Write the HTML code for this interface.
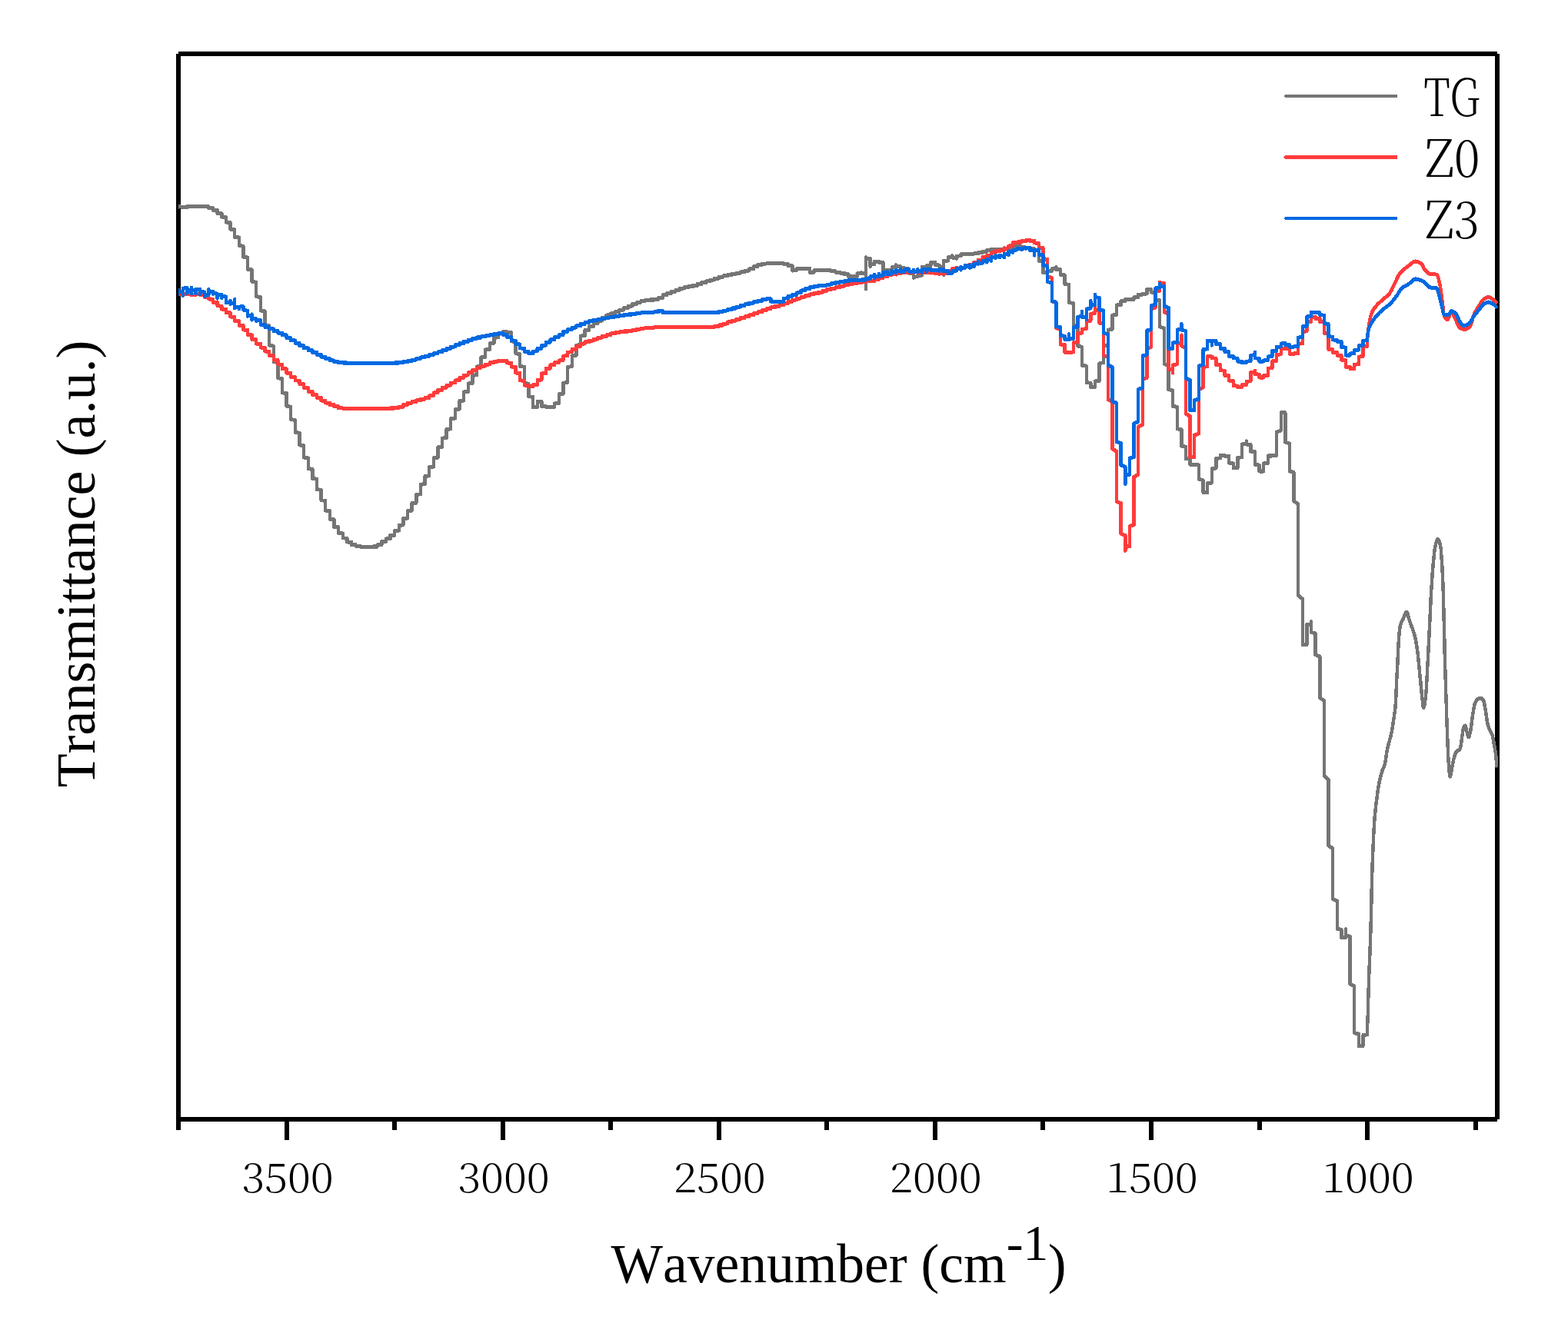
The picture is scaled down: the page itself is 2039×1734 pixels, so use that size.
<!DOCTYPE html>
<html lang="en"><head><meta charset="utf-8"><title>FTIR spectra</title>
<style>html,body{margin:0;padding:0;background:#fff}body{width:2039px;height:1734px;overflow:hidden}svg{display:block}.ax{font-family:"Liberation Serif","Times New Roman",serif;font-kerning:none;fill:#000}.tk{font-family:"Noto Serif CJK SC","Liberation Serif",serif;font-weight:300;font-kerning:none;fill:#000}</style></head><body>
<svg width="2039" height="1734" viewBox="0 0 2039 1734" role="img" aria-label="FTIR transmittance spectra of TG, Z0 and Z3">
<rect width="2039" height="1734" fill="#fff"/>
<g fill="#000" shape-rendering="crispEdges">
<rect x="229" y="70" width="6" height="1400"/>
<rect x="232" y="67" width="1715" height="6"/>
<rect x="1944" y="70" width="6" height="1386"/>
<rect x="232" y="1453" width="1715" height="6"/>
<rect x="370" y="1456" width="6" height="27"/>
<rect x="651" y="1456" width="6" height="27"/>
<rect x="932" y="1456" width="6" height="27"/>
<rect x="1213" y="1456" width="6" height="27"/>
<rect x="1494" y="1456" width="6" height="27"/>
<rect x="1775" y="1456" width="6" height="27"/>
<rect x="510" y="1456" width="6" height="14"/>
<rect x="791" y="1456" width="6" height="14"/>
<rect x="1072" y="1456" width="6" height="14"/>
<rect x="1353" y="1456" width="6" height="14"/>
<rect x="1635" y="1456" width="6" height="14"/>
<rect x="1916" y="1456" width="6" height="14"/>
</g>
<svg x="232" y="70" width="1716" height="1386" viewBox="232 70 1716 1386" overflow="hidden">
<g fill="none" stroke-width="4.4" stroke-linejoin="round" stroke-linecap="butt" shape-rendering="crispEdges">
<path id="g" stroke="#757575" d="M232,269.4 232,269.8 232,269.2 237.7,269.4 237.7,270.1 243.3,270 243.3,269 271.4,269 271.4,270.8 277,271 277,273.7 282.6,273.9 282.6,277.7 288.3,277.9 288.3,282.5 293.9,282.8 293.9,289.4 299.5,289.8 299.5,298.3 305.1,298.8 305.1,308.7 310.8,309.2 310.8,319.8 316.4,320.5 316.4,334.6 322,335.4 322,350.5 327.6,351.2 327.6,366.5 333.2,367.5 333.2,385.9 338.9,386.9 338.9,404.2 344.5,405 344.5,422.8 350.1,424.1 350.1,449.3 355.7,450.4 355.7,470.8 361.4,471.8 361.4,492 367,493 367,511.1 372.6,512 372.6,528.6 378.2,529.5 378.2,545.9 383.8,546.8 383.8,562.8 389.5,563.6 389.5,579.2 395.1,580 395.1,595.3 400.7,596.1 400.7,610 406.3,610.6 406.3,622.8 412,623.5 412,636.9 417.6,637.6 417.6,651 423.2,651.7 423.2,664.3 428.8,664.9 428.8,675.7 434.4,676.2 434.4,685.7 440.1,686.2 440.1,693.8 445.7,694.2 445.7,700.2 451.3,700.5 451.3,705.3 456.9,705.5 456.9,708.9 462.6,709 462.6,710.6 468.2,710.7 468.2,711.5 473.8,711.5 473.8,711.9 479.4,712 479.4,711.9 485,711.9 485,711.3 490.7,711.3 490.7,709.2 496.3,709 496.3,705 501.9,704.8 501.9,701.2 507.5,701 507.5,696.6 513.2,696.4 513.2,690.8 518.8,690.5 518.8,683.6 524.4,683.2 524.4,674.8 530,674.4 530,664.9 535.6,664.3 535.6,654.8 541.3,654.4 541.3,643.8 546.9,643 546.9,630.6 552.5,630 552.5,619.8 558.1,619.2 558.1,608.1 563.7,607.5 563.7,596.2 569.4,595.5 569.4,582.3 575,581.7 575,570.4 580.6,569.8 580.6,558.8 586.2,558.2 586.2,544.9 591.9,544.3 591.9,533.2 597.5,532.6 597.5,521.9 603.1,521.3 603.1,510.2 608.7,509.6 608.7,499.3 614.3,498.8 614.3,488.6 620,488.1 620,477.2 625.6,476.6 625.6,465.2 631.2,464.6 631.2,455.1 636.8,454.7 636.8,446.9 642.5,446.4 642.5,439.5 648.1,439.2 648.1,434.4 653.7,434.2 653.7,432 659.3,432 659.3,432.9 664.9,433 664.9,444.1 670.6,444.9 670.6,460.1 676.2,461 676.2,476.7 681.8,477.6 681.8,498.6 687.4,499.6 687.4,516 693.1,516.7 693.1,529.9 698.7,530 698.7,522.6 704.3,522.5 704.3,528.9 709.9,529 709.9,529.5 721.2,529.5 721.2,525.3 726.8,524.9 726.8,513.1 732.4,512.5 732.4,498.6 738,497.5 738,477.8 743.7,476.8 743.7,463.1 749.3,462.5 749.3,449.5 754.9,448.7 754.9,437.4 760.5,437 760.5,429.8 766.1,429.5 766.1,424.9 771.8,424.7 771.8,421.3 777.4,421.1 777.4,417.5 783,417.3 783,413.7 788.6,413.5 788.6,410.3 794.2,410.2 794.2,408.1 799.9,408 799.9,405.9 805.5,405.8 805.5,403.5 811.1,403.4 811.1,401 816.7,400.8 816.7,398.4 822.4,398.3 822.4,395.9 828,395.8 828,393.8 833.6,393.6 833.6,391.8 839.2,391.7 839.2,390.7 844.8,390.7 844.8,390.3 850.5,390.3 850.5,389.8 856.1,389.7 856.1,387.8 861.7,387.6 861.7,384.2 867.3,384.1 867.3,381.8 873,381.7 873,379.7 878.6,379.5 878.6,377.5 884.2,377.4 884.2,375.4 889.8,375.3 889.8,373.9 895.4,373.8 895.4,372.9 901.1,372.8 901.1,371.6 906.7,371.6 906.7,369.9 912.3,369.8 912.3,368 917.9,367.9 917.9,366.2 923.6,366.1 923.6,364.4 929.2,364.3 929.2,362.5 934.8,362.4 934.8,360.7 940.4,360.6 940.4,359.1 946,359.1 946,357.8 951.7,357.7 951.7,356.6 957.3,356.5 957.3,355.6 962.9,355.5 962.9,354.3 968.5,354.2 968.5,352.5 974.2,352.4 974.2,350.2 979.8,350.1 979.8,347.1 985.4,347 985.4,344.8 991,344.7 991,343.4 996.6,343.3 996.6,343 1019.1,343 1019.1,343.6 1024.8,343.7 1024.8,346 1030.4,346.3 1030.4,352.5 1030.4,351.9 1036,351.7 1036,349.9 1041.6,349.9 1041.6,349.6 1047.2,349.6 1047.2,349.5 1052.9,349.6 1052.9,354.7 1058.5,354.6 1058.5,352.2 1064.1,352.1 1064.1,352 1075.4,352 1075.4,352.2 1081,352.2 1081,353.2 1086.6,353.2 1086.6,354.4 1092.2,354.4 1092.2,355.5 1097.8,355.5 1097.8,356.9 1103.5,357 1103.5,359.9 1109.1,360 1109.1,361 1109.1,360.1 1114.7,359.9 1114.7,356.1 1120.3,356 1120.3,355 1120.3,355.7 1125.9,356 1125.9,375.9 1125.9,335 1125.9,336.3 1131.6,336.4 1131.6,346.7 1131.6,344.3 1137.2,343.9 1137.2,340.5 1142.8,340.4 1142.8,341.5 1148.4,341.8 1148.4,351.7 1154.1,351.7 1154.1,351.4 1159.7,351.3 1159.7,347.9 1165.3,347.4 1165.3,345 1165.3,346.7 1170.9,347 1170.9,349.1 1176.5,349.1 1176.5,350.2 1182.2,350.3 1182.2,355.6 1187.8,356.4 1187.8,361.7 1187.8,360.5 1193.4,360.2 1193.4,358.5 1199,358.4 1199,347.4 1204.7,347.4 1204.7,346.2 1210.3,345.9 1210.3,341.7 1215.9,341.7 1215.9,344.8 1221.5,345.4 1221.5,347.7 1227.1,347.8 1227.1,357.8 1227.1,339.5 1232.8,339.4 1232.8,334.9 1238.4,334.5 1238.4,333 1238.4,335.6 1244,335.9 1244,336.7 1244,333.5 1249.6,333.1 1249.6,331 1260.9,331 1260.9,330.7 1266.5,330.6 1266.5,330.1 1272.1,330 1272.1,329.1 1277.7,329.1 1277.7,327.5 1283.4,327.4 1283.4,325.6 1289,325.5 1289,324.7 1294.6,324.7 1294.6,325 1300.2,325 1300.2,324.8 1305.9,324.8 1305.9,323.9 1311.5,323.9 1311.5,322.7 1317.1,322.6 1317.1,321.3 1322.7,321.2 1328.3,321.2 1328.3,322.2 1334,322.2 1334,323 1339.6,323.1 1339.6,323.8 1345.2,323.9 1345.2,325.5 1350.8,325.7 1350.8,339.7 1356.4,340.5 1356.4,355.2 1362.1,355.2 1362.1,352.7 1367.7,352.6 1367.7,350.2 1373.3,350 1373.3,347.7 1373.3,350.6 1378.9,350.9 1378.9,357.7 1384.6,358.2 1384.6,369.8 1390.2,370.6 1390.2,393.6 1395.8,394.9 1395.8,423 1401.4,424.4 1401.4,450.4 1407,451.7 1407,475.4 1412.7,476.6 1412.7,498 1418.3,498.5 1418.3,503.8 1423.9,503.8 1423.9,496.3 1429.5,495.7 1429.5,473 1435.2,471.9 1435.2,450 1440.8,448.9 1440.8,429.5 1446.4,428.5 1446.4,410.4 1452,409.6 1452,397.2 1457.6,396.9 1457.6,392.2 1463.3,392 1463.3,389.5 1468.9,389.5 1468.9,389.9 1474.5,389.9 1474.5,387 1480.1,386.8 1480.1,383.6 1485.8,383.5 1485.8,382.4 1491.4,382.3 1491.4,376.9 1497,376.9 1497,380.3 1502.6,380.6 1502.6,390 1508.2,390.9 1508.2,425.3 1513.9,427.4 1513.9,473.7 1519.5,475.6 1519.5,507 1525.1,508.3 1525.1,528.5 1530.7,529.8 1530.7,558 1536.4,559.3 1536.4,580.5 1542,581.5 1542,597 1547.6,597.5 1547.6,604.5 1553.2,604.5 1553.2,605 1558.8,605.1 1558.8,623.5 1564.5,625 1564.5,640.8 1570.1,640.8 1570.1,629 1575.7,628.3 1575.7,610 1581.3,609.2 1581.3,596.5 1587,596.2 1587,592.5 1592.6,592.5 1592.6,593.5 1598.2,593.6 1598.2,602.5 1603.8,603.1 1603.8,609 1609.4,608.9 1609.4,595.8 1615.1,595 1615.1,578.3 1620.7,577.7 1620.7,574.2 1620.7,578.3 1626.3,578.7 1626.3,587.5 1631.9,588.1 1631.9,604.5 1637.6,605.4 1637.6,613.3 1643.2,613.3 1643.2,603.3 1648.8,602.8 1648.8,593.3 1654.4,593.3 1654.4,593 1660,592.8 1660,562.5 1665.7,560.2 1665.7,537 1671.3,537.2 1671.3,575.4 1676.9,577.3 1676.9,613 1682.5,614.8 1682.5,652.2 1688.1,655.8 1688.1,775 1693.8,779.4 1693.8,839 1699.4,838.8 1699.4,812.8 1705,812.2 1705,809 1705,822.8 1710.6,824.1 1710.6,852.2 1716.3,854.2 1716.3,908 1721.9,911.8 1721.9,1009.4 1727.5,1014.2 1727.5,1100.2 1733.1,1104.1 1733.1,1169.8 1738.7,1172.3 1738.7,1208.6 1744.4,1209.5 1744.4,1220 1750,1219.5 1750,1209 1750,1217.1 1755.6,1218.6 1755.6,1280.1 1761.2,1283.4 1761.2,1344 1766.9,1345.3 1766.9,1360.8 1772.5,1360.7 1772.5,1346.8 1778.1,1346.2 1778.1,1334.8 1778.7,1322.6 1779.2,1302.1 1779.8,1282.4 1780.3,1266.9 1780.9,1252.7 1781.5,1238.4 1782,1222.9 1782.6,1204.5 1783.2,1181.3 1783.7,1156.9 1784.3,1135.6 1784.8,1119.4 1785.4,1105.7 1786,1093.1 1786.5,1081 1787.1,1070.7 1787.7,1063.1 1788.2,1057.4 1788.8,1052.4 1789.3,1047.5 1789.9,1042.7 1790.5,1038.2 1791,1033.9 1791.6,1029.8 1792.2,1026 1792.7,1022.4 1793.3,1019.4 1793.8,1016.7 1794.4,1014.1 1795,1011.8 1795.5,1009.5 1796.1,1007.5 1796.7,1005.6 1797.2,1003.7 1797.8,1002.1 1798.3,1000.8 1798.9,999.6 1799.5,998.3 1800,996.9 1800.6,995.2 1801.2,992.9 1801.7,989.7 1802.3,986.1 1802.8,982.3 1803.4,978.6 1804,975.5 1804.5,972.9 1805.1,970.6 1805.6,968.5 1806.2,966.4 1806.8,964.2 1807.3,962 1807.9,959.9 1808.5,957.8 1809,955.5 1809.6,953 1810.1,950.2 1810.7,947 1811.3,943.4 1811.8,939.5 1812.4,935.5 1813,931.5 1813.5,927.6 1814.1,924 1814.6,919.1 1815.2,909.1 1815.8,894.7 1816.3,883.1 1816.9,872.3 1817.5,861.3 1818,849.3 1818.6,837.8 1819.1,829 1819.7,822.5 1820.3,817.4 1820.8,814.3 1821.4,812.4 1822,810.8 1822.5,809.5 1823.1,808.3 1823.6,807.3 1824.2,806.3 1824.8,805.2 1825.3,803.9 1825.9,802.5 1826.4,801 1827,799.6 1827.6,798.4 1828.1,797.4 1828.7,796.8 1829.3,796.8 1829.8,797.4 1830.4,798.7 1830.9,800.5 1831.5,802.5 1832.1,804.6 1832.6,806.6 1833.2,808.4 1833.8,810 1834.3,811.5 1834.9,813 1835.4,814.5 1836,816 1836.6,817.5 1837.1,819.1 1837.7,820.8 1838.3,822.5 1838.8,824.4 1839.4,826.4 1839.9,828.6 1840.5,831.1 1841.1,833.9 1841.6,836.9 1842.2,840.3 1842.8,843.9 1843.3,847.9 1843.9,852.5 1844.4,857.9 1845,863.7 1845.6,869.6 1846.1,875.6 1846.7,881.3 1847.3,887.1 1847.8,892.9 1848.4,898.6 1848.9,903.9 1849.5,909.2 1850.1,914.8 1850.6,919.2 1851.2,920.9 1851.7,920 1852.3,917.7 1852.9,914.3 1853.4,910.1 1854,905.5 1854.6,899.3 1855.1,890.5 1855.7,880.1 1856.2,869.2 1856.8,858.7 1857.4,847.7 1857.9,836.3 1858.5,824.8 1859.1,813.3 1859.6,801.7 1860.2,789.8 1860.7,778.2 1861.3,767.6 1861.9,758.5 1862.4,750.1 1863,742.4 1863.6,735.5 1864.1,729.4 1864.7,723.9 1865.2,718.8 1865.8,714.4 1866.4,710.9 1866.9,708.5 1867.5,706.3 1868.1,704.3 1868.6,702.8 1869.2,701.9 1869.7,701.7 1870.3,702.1 1870.9,702.9 1871.4,704.1 1872,705.7 1872.5,707.6 1873.1,709.8 1873.7,713.9 1874.2,720.9 1874.8,729.1 1875.4,737.9 1875.9,748.5 1876.5,761.5 1877,779.7 1877.6,802.9 1878.2,826.4 1878.7,850.5 1879.3,871.4 1879.9,889.2 1880.4,906.1 1881,923.5 1881.5,941 1882.1,956.7 1882.7,971.6 1883.2,984.3 1883.8,993.3 1884.4,1001 1884.9,1007.2 1885.5,1010.4 1886,1010.2 1886.6,1007.8 1887.2,1004.4 1887.7,1000.7 1888.3,997.7 1888.9,994.9 1889.4,992.1 1890,989.5 1890.5,987.2 1891.1,985.1 1891.7,983.1 1892.2,981.4 1892.8,979.9 1893.4,978.9 1893.9,978.2 1894.5,977.6 1895,977.2 1895.6,976.8 1896.2,976.5 1896.7,976.1 1897.3,975.7 1897.8,975.2 1898.4,974.4 1899,973.5 1899.5,971.3 1900.1,967.4 1900.7,963.3 1901.2,959.2 1901.8,954.6 1902.3,950.5 1902.9,947.5 1903.5,946.1 1904,945.1 1904.6,944.5 1905.2,944.2 1905.7,945.1 1906.3,947.2 1906.8,949.7 1907.4,951.9 1908,953.9 1908.5,956.1 1909.1,958 1909.7,959.1 1910.2,958.9 1910.8,957.4 1911.3,955.1 1911.9,952.3 1912.5,949.4 1913,945.8 1913.6,941.4 1914.2,936.8 1914.7,932.6 1915.3,929.1 1915.8,925.7 1916.4,922.4 1917,919.4 1917.5,917 1918.1,915.2 1918.6,913.9 1919.2,912.9 1919.8,912 1920.3,911.2 1920.9,910.6 1921.5,910.1 1922,909.6 1922.6,909.2 1923.1,908.9 1923.7,908.6 1924.3,908.4 1924.8,908.3 1925.4,908.4 1926,908.6 1926.5,908.9 1927.1,909.3 1927.6,909.9 1928.2,910.5 1928.8,911.3 1929.3,912.3 1929.9,914.3 1930.5,917.1 1931,920.3 1931.6,923.4 1932.1,926.7 1932.7,930.5 1933.3,934.4 1933.8,938.1 1934.4,941.2 1935,943.6 1935.5,945.4 1936.1,947 1936.6,948.4 1937.2,949.6 1937.8,950.8 1938.3,952 1938.9,953.1 1939.5,954.1 1940,955.1 1940.6,956.5 1941.1,958.5 1941.7,961.3 1942.3,964.6 1942.8,968 1943.4,971.3 1943.9,974.4 1944.5,977.8 1945.1,981.8 1945.6,987.2 1946.2,994.5 1946.8,998.3"/>
<use href="#g" y="-0.6"/>
<path id="r" stroke="#ff3b3b" d="M232,382.8 232,381.6 232,383 237.7,382.9 237.7,382.2 237.7,382.7 243.3,382.5 243.3,381.9 243.3,383.3 243.3,382.7 248.9,383 248.9,382.1 248.9,383.9 254.5,383.9 254.5,382 254.5,382.4 260.2,382.4 260.2,383.7 265.8,383.9 265.8,386.6 271.4,386.8 271.4,389.2 277,389.8 277,393.8 277,393.2 282.6,393.6 282.6,398 288.3,398.6 288.3,402.4 293.9,402.3 293.9,407 299.5,407.3 299.5,412.3 305.1,412.6 305.1,417.8 310.8,418 310.8,423.4 316.4,423.7 316.4,429.3 322,429.6 322,435.6 327.6,436 327.6,441.9 333.2,442.2 333.2,447.4 338.9,447.6 338.9,452.3 344.5,452.5 344.5,457.3 350.1,457.6 350.1,462.8 355.7,463.1 355.7,468.5 361.4,468.8 361.4,474.2 367,474.5 367,480 372.6,480.2 372.6,485.6 378.2,485.8 378.2,490.6 383.8,490.8 383.8,495.2 389.5,495.5 389.5,499.8 395.1,500 395.1,504.6 400.7,504.9 400.7,509.4 406.3,509.6 406.3,513.7 412,513.9 412,517.7 417.6,517.9 417.6,521.3 423.2,521.5 423.2,524.3 428.8,524.4 428.8,526.8 434.4,526.9 434.4,528.9 440.1,529 440.1,531 445.7,531.1 445.7,531.5 507.5,531.5 507.5,531.3 513.2,531.3 513.2,531.1 518.8,531 518.8,529.7 524.4,529.6 524.4,526.7 530,526.6 530,524.6 535.6,524.5 535.6,522.9 541.3,522.8 541.3,521.3 546.9,521.2 546.9,519.6 552.5,519.6 552.5,517.9 558.1,517.8 558.1,515.2 563.7,515 563.7,511.3 569.4,511.1 569.4,507.7 575,507.6 575,504.6 580.6,504.4 580.6,501.5 586.2,501.3 586.2,498.4 591.9,498.2 591.9,495.2 597.5,495 597.5,491.9 603.1,491.7 603.1,488.5 608.7,488.3 608.7,485 614.3,484.8 614.3,481.5 620,481.3 620,478.7 625.6,478.6 625.6,476.5 631.2,476.4 631.2,474.4 636.8,474.3 636.8,472.1 642.5,472 642.5,470.5 648.1,470.4 648.1,469.7 653.7,469.6 653.7,469.9 659.3,469.9 659.3,472.3 664.9,472.5 664.9,477.3 670.6,477.6 670.6,485.3 676.2,485.8 676.2,495.1 681.8,495.6 681.8,501.3 687.4,501.5 687.4,503 693.1,503 693.1,501 698.7,500.8 698.7,494.7 704.3,494.3 704.3,486.2 709.9,485.9 709.9,479.8 715.5,479.5 715.5,475.1 721.2,474.9 721.2,472 726.8,471.9 726.8,469.3 732.4,469.1 732.4,463.4 738,463.1 738,458.4 743.7,458.2 743.7,454.7 749.3,454.5 749.3,450.8 754.9,450.6 754.9,447.4 760.5,447.3 760.5,445.2 766.1,445.1 766.1,443.4 771.8,443.3 771.8,441.4 777.4,441.3 777.4,439.5 783,439.4 783,437.7 788.6,437.7 788.6,436 794.2,435.9 794.2,434.3 799.9,434.2 799.9,433 805.5,432.9 805.5,432.1 811.1,432 811.1,431.3 816.7,431.3 816.7,430.6 822.4,430.5 822.4,429.5 828,429.5 828,428.4 833.6,428.3 833.6,427.4 839.2,427.3 839.2,426.9 844.8,426.8 844.8,426.5 850.5,426.5 850.5,426.3 856.1,426.2 856.1,426.1 861.7,426.1 861.7,426 923.6,426 923.6,425.7 929.2,425.7 929.2,424.7 934.8,424.6 934.8,423.3 940.4,423.3 940.4,421.4 946,421.3 946,419.3 951.7,419.2 951.7,417.4 957.3,417.3 957.3,415.6 962.9,415.5 962.9,413.8 968.5,413.7 968.5,412 974.2,411.9 974.2,410.2 979.8,410.1 979.8,408.2 985.4,408.1 985.4,406.1 991,406 991,404.1 996.6,404 996.6,402 1002.3,401.9 1002.3,400.2 1007.9,400.2 1007.9,398.8 1013.5,398.7 1013.5,397 1019.1,396.9 1019.1,394.8 1024.8,394.7 1024.8,392.5 1030.4,392.4 1030.4,390.4 1036,390.3 1036,388.4 1041.6,388.3 1041.6,386.5 1047.2,386.4 1047.2,384.7 1052.9,384.6 1052.9,383.2 1058.5,383.1 1058.5,381.9 1064.1,381.9 1064.1,380.4 1069.7,380.4 1069.7,378.6 1075.4,378.5 1075.4,376.8 1081,376.7 1081,375.5 1086.6,375.4 1086.6,374.2 1092.2,374.1 1092.2,372.5 1097.8,372.4 1097.8,370.8 1103.5,370.8 1103.5,369.7 1109.1,369.6 1109.1,368.7 1114.7,368.6 1114.7,367.9 1120.3,367.8 1120.3,367 1125.9,367 1125.9,366.2 1131.6,366.2 1131.6,364.8 1131.6,365.9 1137.2,365.8 1137.2,363.6 1142.8,363.7 1142.8,362.1 1148.4,362 1148.4,360.3 1154.1,360.2 1154.1,357.9 1159.7,358 1159.7,356.9 1165.3,356.8 1165.3,357.4 1165.3,355.8 1170.9,355.8 1170.9,356.3 1170.9,355 1176.5,355.1 1176.5,354 1176.5,354.9 1182.2,354.8 1182.2,353.4 1182.2,354.2 1187.8,354.1 1187.8,354.9 1187.8,353.7 1193.4,353.7 1193.4,355 1199,355.1 1199,354 1199,354.8 1204.7,354.9 1204.7,354.5 1210.3,354.5 1210.3,355.4 1210.3,354.6 1215.9,354.6 1215.9,355.8 1221.5,355.9 1221.5,355.1 1221.5,356.8 1221.5,356.2 1227.1,356.1 1227.1,356.6 1227.1,355.4 1227.1,356 1232.8,356 1232.8,353.2 1238.4,353 1238.4,349.9 1244,349.8 1244,348.6 1244,349.7 1249.6,349.4 1249.6,347.8 1249.6,348.5 1255.3,348.2 1255.3,346.1 1260.9,346 1260.9,344.7 1266.5,344.6 1266.5,341.5 1272.1,341.4 1272.1,338.7 1277.7,338.3 1277.7,334.5 1277.7,335.4 1283.4,334.9 1283.4,332.7 1289,332.9 1289,329.3 1294.6,329.1 1294.6,326.9 1300.2,327 1300.2,325.9 1305.9,325.8 1305.9,323.1 1305.9,323.8 1311.5,323.6 1311.5,320.4 1317.1,319.9 1317.1,316.1 1322.7,316.1 1322.7,315.3 1328.3,315.3 1328.3,314 1334,314.2 1334,313 1339.6,312.9 1339.6,314.1 1345.2,314.2 1345.2,313.3 1345.2,316.2 1350.8,316.8 1350.8,322.2 1356.4,322.6 1356.4,336.8 1362.1,337.7 1362.1,360.2 1367.7,361.6 1367.7,392 1373.3,393.7 1373.3,427 1378.9,428.3 1378.9,448.3 1384.6,449 1384.6,458.4 1390.2,458.4 1395.8,458.3 1395.8,446 1401.4,445.4 1401.4,433.8 1407,433.4 1407,428.5 1412.7,428.1 1412.7,417.9 1418.3,417.4 1418.3,408.5 1423.9,407.7 1423.9,399.7 1423.9,403.5 1429.5,404 1429.5,420.4 1435.2,421.7 1435.2,462.5 1440.8,465 1440.8,519.9 1446.4,523 1446.4,584.1 1452,587.5 1452,652.6 1457.6,655.1 1457.6,694.5 1463.3,696.8 1463.3,716.7 1463.3,711.7 1468.9,711 1468.9,685 1474.5,683 1474.5,620.8 1480.1,617.5 1480.1,555.6 1485.8,552.4 1485.8,494 1491.4,491.7 1491.4,454 1497,451.7 1497,402 1502.6,400.5 1502.6,379.7 1508.2,378.4 1508.2,367.5 1508.2,368.8 1513.9,369.1 1513.9,406 1519.5,408.7 1519.5,480.4 1525.1,481.2 1525.1,485.5 1525.1,475.4 1530.7,474.2 1530.7,447.8 1536.4,446.4 1536.4,436.1 1536.4,450.3 1542,452.7 1542,538.5 1547.6,542 1547.6,595 1553.2,594.9 1553.2,566.5 1558.8,564.4 1558.8,506.5 1564.5,504.6 1564.5,477.9 1570.1,477 1570.1,464.1 1575.7,464.1 1575.7,466.2 1581.3,466.4 1581.3,474.6 1587,475 1587,482.1 1592.6,482.5 1592.6,488.8 1598.2,489.1 1598.2,495.5 1603.8,495.8 1603.8,502.1 1609.4,502.4 1609.4,504.2 1609.4,503.7 1615.1,503.6 1615.1,501.1 1620.7,500.9 1620.7,496.6 1626.3,496.1 1626.3,485 1631.9,484.6 1631.9,482.5 1631.9,487.1 1637.6,487.4 1637.6,491.3 1643.2,491.3 1643.2,488.8 1648.8,488.6 1648.8,479.5 1654.4,479 1654.4,470.2 1660,469.8 1660,461.6 1665.7,461.2 1665.7,453.8 1671.3,453.8 1671.3,454 1676.9,454.1 1676.9,460.7 1682.5,460.7 1682.5,460.3 1688.1,460.2 1688.1,447.7 1693.8,447 1693.8,431.8 1699.4,431.1 1699.4,418.9 1705,418.5 1705,412.6 1710.6,412.6 1710.6,414.7 1716.3,414.8 1716.3,418.9 1721.9,419.3 1721.9,433.5 1727.5,434.4 1727.5,454.8 1733.1,455.1 1733.1,458.6 1738.7,458.8 1738.7,462.4 1744.4,462.6 1744.4,468.6 1750,469 1750,477.8 1755.6,478 1755.6,479.9 1761.2,479.9 1761.2,474.5 1766.9,474.1 1766.9,464.4 1772.5,463.8 1772.5,450.7 1778.1,450.4 1778.1,440.9 1778.7,435.8 1779.2,430.4 1779.8,426 1780.3,421.9 1780.9,418.3 1781.5,415.4 1782,413.1 1782.6,411 1783.2,409.2 1783.7,407.6 1784.3,406.2 1784.8,405 1785.4,404 1786,403 1786.5,402.2 1787.1,401.4 1787.7,400.6 1788.2,399.9 1788.8,399.2 1789.3,398.6 1789.9,397.9 1790.5,397.3 1791,396.7 1791.6,396.1 1792.2,395.5 1792.7,395 1793.3,394.4 1793.8,393.9 1794.4,393.4 1795,392.9 1795.5,392.4 1796.1,391.9 1796.7,391.4 1797.2,390.9 1797.8,390.4 1798.3,389.8 1798.9,389.3 1799.5,388.9 1800,388.4 1800.6,388 1801.2,387.5 1801.7,387.1 1802.3,386.6 1802.8,386.2 1803.4,385.7 1804,385.2 1804.5,384.7 1805.1,384.1 1805.6,383.6 1806.2,382.9 1806.8,382.2 1807.3,381.4 1807.9,380.5 1808.5,379.6 1809,378.5 1809.6,377.4 1810.1,376.2 1810.7,375.1 1811.3,373.9 1811.8,372.7 1812.4,371.5 1813,370.4 1813.5,369.3 1814.1,368.1 1814.6,366.9 1815.2,365.7 1815.8,364.5 1816.3,363.2 1816.9,362 1817.5,360.9 1818,359.7 1818.6,358.7 1819.1,357.8 1819.7,356.9 1820.3,356.2 1820.8,355.5 1821.4,354.8 1822,354.2 1822.5,353.6 1823.1,353.1 1823.6,352.6 1824.2,352 1824.8,351.5 1825.3,351.1 1825.9,350.6 1826.4,350.1 1827,349.6 1827.6,349.1 1828.1,348.7 1828.7,348.2 1829.3,347.8 1829.8,347.4 1830.4,347 1830.9,346.6 1831.5,346.2 1832.1,345.8 1832.6,345.4 1833.2,345 1833.8,344.6 1834.3,344.1 1834.9,343.7 1835.4,343.2 1836,342.7 1836.6,342.3 1837.1,341.8 1837.7,341.4 1838.3,341.1 1838.8,340.8 1839.4,340.5 1839.9,340.4 1840.5,340.3 1841.1,340.3 1841.6,340.4 1842.2,340.5 1842.8,340.6 1843.3,340.8 1843.9,341 1844.4,341.2 1845,341.4 1845.6,341.7 1846.1,342 1846.7,342.4 1847.3,342.7 1847.8,343.1 1848.4,343.5 1848.9,344.1 1849.5,345 1850.1,346 1850.6,347.2 1851.2,348.4 1851.7,349.5 1852.3,350.5 1852.9,351.4 1853.4,352 1854,352.6 1854.6,353.1 1855.1,353.7 1855.7,354.2 1856.2,354.7 1856.8,355.2 1857.4,355.6 1857.9,355.9 1858.5,356.2 1859.1,356.5 1859.6,356.6 1860.2,356.8 1860.7,356.8 1861.3,356.9 1861.9,356.9 1862.4,357 1863.6,357 1864.1,357.1 1865.2,357.1 1865.8,357.2 1866.4,357.2 1866.9,357.3 1867.5,357.4 1868.1,357.5 1868.6,357.8 1869.2,358.7 1869.7,360 1870.3,361.8 1870.9,363.8 1871.4,366.1 1872,368.4 1872.5,370.9 1873.1,374.1 1873.7,377.9 1874.2,382.2 1874.8,386.7 1875.4,391.1 1875.9,395.4 1876.5,400.3 1877,405.3 1877.6,409.4 1878.2,411.7 1878.7,412.7 1879.3,413.5 1879.9,414.3 1880.4,414.9 1881,415.3 1881.5,415.6 1882.1,415.8 1882.7,415.7 1883.2,415.1 1883.8,414 1884.4,412.6 1884.9,411.1 1885.5,409.6 1886,408.3 1886.6,407.3 1887.2,406.8 1887.7,406.8 1888.3,407.2 1888.9,407.8 1889.4,408.7 1890,409.8 1890.5,411 1891.1,412.2 1891.7,413.5 1892.2,414.8 1892.8,416 1893.4,417.1 1893.9,418.3 1894.5,419.6 1895,421 1895.6,422.4 1896.2,423.7 1896.7,424.8 1897.3,425.8 1897.8,426.5 1898.4,426.8 1899,427.1 1899.5,427.4 1900.1,427.6 1900.7,427.9 1901.2,428.1 1901.8,428.2 1902.3,428.4 1902.9,428.5 1903.5,428.6 1904,428.7 1905.2,428.7 1905.7,428.6 1906.3,428.5 1906.8,428.3 1907.4,428.1 1908,427.8 1908.5,427.5 1909.1,427.1 1909.7,426.7 1910.2,426.2 1910.8,425.7 1911.3,425.2 1911.9,424.5 1912.5,423.4 1913,421.8 1913.6,420 1914.2,418 1914.7,415.9 1915.3,413.8 1915.8,412 1916.4,410.4 1917,409.1 1917.5,407.9 1918.1,406.8 1918.6,405.7 1919.2,404.7 1919.8,403.7 1920.3,402.8 1920.9,401.8 1921.5,400.9 1922,400.1 1922.6,399.2 1923.1,398.3 1923.7,397.4 1924.3,396.5 1924.8,395.6 1925.4,394.7 1926,393.8 1926.5,393 1927.1,392.2 1927.6,391.4 1928.2,390.7 1928.8,390.1 1929.3,389.6 1929.9,389.2 1930.5,388.8 1931,388.5 1931.6,388.1 1932.1,387.8 1932.7,387.5 1933.3,387.3 1933.8,387 1934.4,386.9 1935,386.8 1935.5,386.7 1936.1,386.7 1936.6,386.8 1937.2,387 1937.8,387.3 1938.3,387.6 1938.9,388 1939.5,388.4 1940,388.8 1940.6,389.3 1941.1,389.7 1941.7,390.1 1942.3,390.6 1942.8,391 1943.4,391.6 1943.9,392.1 1944.5,392.7 1945.1,393.3 1945.6,394 1946.2,394.7 1946.8,395.2"/>
<use href="#r" y="-0.6"/>
<path id="b" stroke="#0069e1" d="M232,380.9 232,382.7 232,377.8 232,379.1 237.7,379.8 237.7,384.9 237.7,375.4 243.3,374.9 243.3,381.7 243.3,378.7 248.9,377.6 248.9,374.3 248.9,381.9 248.9,377.9 254.5,377.2 254.5,382.1 254.5,376.4 260.2,376.4 260.2,383.1 260.2,378.8 265.8,380.2 265.8,386.2 265.8,385 271.4,383.6 271.4,376.4 271.4,380.2 277,379.8 277,379.2 277,382.6 277,381.8 282.6,382.4 282.6,388.6 282.6,383.8 288.3,384.5 288.3,383.3 288.3,387.8 288.3,385 293.9,386.4 293.9,394 299.5,394.2 299.5,391.6 299.5,395.7 299.5,394.8 305.1,394.2 305.1,389.8 305.1,401.3 305.1,399 310.8,400.1 310.8,402.3 310.8,399.4 316.4,399.1 316.4,403.4 322,404.5 322,411.6 322,410.5 327.6,411 327.6,409.1 327.6,416.6 327.6,414.3 333.2,415 333.2,417.9 333.2,416.9 338.9,416.8 338.9,422.8 344.5,423.1 344.5,422.6 344.5,425.8 350.1,426 350.1,428.1 355.7,428.2 355.7,430.8 361.4,430.8 361.4,433.5 367,433.6 367,436.1 372.6,436.2 372.6,439.8 378.2,440 378.2,443.1 383.8,443.3 383.8,446.5 389.5,446.7 389.5,450 395.1,450.1 395.1,453 400.7,453.2 400.7,455.8 406.3,456 406.3,458.6 412,458.7 412,461.5 417.6,461.6 417.6,464.4 423.2,464.5 423.2,466.9 428.8,467 428.8,469.2 434.4,469.3 434.4,470.9 440.1,471 440.1,472 445.7,472.1 445.7,472.3 451.3,472.3 451.3,472.4 462.6,472.4 462.6,472.5 501.9,472.5 501.9,472.4 513.2,472.4 513.2,472.3 518.8,472.3 518.8,472 524.4,471.9 524.4,471 530,471 530,469.9 535.6,469.8 535.6,468.4 541.3,468.3 541.3,466.8 546.9,466.7 546.9,465.2 552.5,465.1 552.5,463.6 558.1,463.5 558.1,461.9 563.7,461.8 563.7,460.1 569.4,460.1 569.4,458.2 575,458.1 575,456.1 580.6,455.9 580.6,453.7 586.2,453.6 586.2,451.4 591.9,451.3 591.9,449.1 597.5,449 597.5,446.9 603.1,446.8 603.1,444.7 608.7,444.6 608.7,442.6 614.3,442.5 614.3,440.8 620,440.7 620,439.3 625.6,439.3 625.6,438.1 631.2,438.1 631.2,437.1 636.8,437 636.8,436.1 642.5,436 642.5,434.9 648.1,434.9 648.1,434.1 653.7,434 653.7,435.4 659.3,435.5 659.3,438.8 664.9,439 664.9,443.2 670.6,443.4 670.6,448.1 676.2,448.3 676.2,453.2 681.8,453.5 681.8,457.6 687.4,457.8 687.4,460 693.1,460 693.1,457.4 698.7,457.2 698.7,453.5 704.3,453.4 704.3,449.5 709.9,449.3 709.9,445.6 715.5,445.5 715.5,442 721.2,441.8 721.2,439 726.8,438.9 726.8,436.2 732.4,436.1 732.4,431.9 738,431.7 738,428.9 743.7,428.8 743.7,426.4 749.3,426.3 749.3,424.1 754.9,423.9 754.9,421.8 760.5,421.7 760.5,419.8 766.1,419.7 766.1,418 771.8,417.9 771.8,416.5 777.4,416.5 777.4,415.4 783,415.3 783,414.4 788.6,414.3 788.6,413.4 794.2,413.3 794.2,412.4 799.9,412.4 799.9,411.6 805.5,411.6 805.5,410.9 811.1,410.8 811.1,410.1 816.7,410.1 816.7,409.3 822.4,409.3 822.4,408.4 828,408.4 828,407.7 833.6,407.6 833.6,407.2 839.2,407.2 839.2,406.9 844.8,406.9 844.8,406.6 850.5,406.6 850.5,406.2 856.1,406.2 856.1,404.7 861.7,404.6 861.7,406.9 867.3,407 929.2,407 929.2,406.7 934.8,406.7 934.8,405.7 940.4,405.6 940.4,404.4 946,404.3 946,403 951.7,403 951.7,401.3 957.3,401.3 957.3,399.5 962.9,399.4 962.9,397.8 968.5,397.7 968.5,396.2 974.2,396.1 974.2,394.6 979.8,394.5 979.8,393.1 985.4,393 985.4,391.6 991,391.5 991,389.9 996.6,389.8 996.6,389 1002.3,389 1002.3,392.5 1019.1,392.5 1019.1,388.4 1024.8,388.2 1024.8,385.7 1030.4,385.6 1030.4,383.7 1036,383.6 1036,381.2 1041.6,381 1041.6,378.3 1047.2,378.2 1047.2,376 1052.9,375.9 1052.9,374.1 1058.5,374 1058.5,372.8 1064.1,372.7 1064.1,372 1069.7,372 1069.7,371.4 1075.4,371.3 1075.4,370.4 1081,370.3 1081,368.9 1086.6,368.9 1086.6,367.6 1092.2,367.6 1092.2,366.7 1097.8,366.7 1097.8,365.9 1103.5,365.9 1103.5,364.9 1109.1,364.8 1109.1,364.5 1114.7,364.5 1114.7,364.4 1120.3,364.4 1120.3,364.3 1125.9,364.3 1125.9,363.2 1131.6,363.1 1131.6,360.1 1137.2,360.1 1137.2,361.9 1137.2,357.5 1137.2,359 1142.8,359.8 1142.8,360.3 1142.8,356.4 1142.8,358.5 1148.4,358.6 1148.4,355 1154.1,355.1 1154.1,354.1 1154.1,357 1154.1,356.4 1159.7,356.3 1159.7,352.5 1159.7,353.9 1165.3,354.5 1165.3,355 1165.3,351.4 1165.3,352.8 1170.9,353.4 1170.9,350.3 1170.9,353.5 1176.5,353.5 1176.5,350.8 1182.2,350.3 1182.2,353.3 1187.8,354.1 1187.8,351.5 1187.8,353.8 1193.4,353.9 1193.4,350.5 1193.4,352.4 1199,352.5 1199,354.5 1199,351.2 1204.7,350.8 1204.7,354 1204.7,350.8 1210.3,350.6 1210.3,352.2 1210.3,351.5 1215.9,351.7 1215.9,352.2 1221.5,352 1221.5,353.1 1221.5,350.4 1221.5,351 1227.1,351 1227.1,350.6 1227.1,353.2 1232.8,353.2 1232.8,352.6 1232.8,355.8 1238.4,355.5 1238.4,352.3 1238.4,353 1244,352.3 1244,349.8 1249.6,350.2 1249.6,351.5 1249.6,347.3 1249.6,348.4 1255.3,348.4 1255.3,345.3 1255.3,346.3 1260.9,346.8 1260.9,345.1 1260.9,348.6 1260.9,347.7 1266.5,347 1266.5,343.2 1266.5,343.9 1272.1,343 1272.1,343.6 1272.1,340.6 1272.1,342.6 1277.7,342.4 1277.7,339.6 1283.4,339.9 1283.4,341.6 1283.4,337.3 1283.4,337.7 1289,338.3 1289,339.5 1289,334.7 1289,335.1 1294.6,335.3 1294.6,335.8 1294.6,332.8 1294.6,333.5 1300.2,334.1 1300.2,335.4 1300.2,332.3 1300.2,333 1305.9,333.7 1305.9,335 1305.9,330.2 1305.9,330.8 1311.5,331.4 1311.5,332.1 1311.5,327.1 1311.5,327.6 1317.1,328 1317.1,328.6 1317.1,326.4 1322.7,325.2 1322.7,323.9 1328.3,323.9 1328.3,325.2 1328.3,323.7 1334,323 1334,323.6 1334,322.4 1339.6,322.7 1339.6,326.3 1339.6,325.7 1345.2,325.6 1345.2,332.5 1345.2,325.9 1350.8,326 1350.8,325.2 1350.8,331.4 1356.4,331.8 1356.4,345.6 1362.1,346.5 1362.1,366.9 1367.7,368.1 1367.7,392 1373.3,393.5 1373.3,425 1378.9,425.9 1378.9,437.1 1384.6,437.4 1384.6,442 1390.2,441.8 1390.2,435 1390.2,441 1395.8,440.9 1395.8,426.3 1401.4,425.6 1401.4,412.5 1407,411.8 1407,405.8 1407,412.5 1412.7,413 1412.7,416.2 1412.7,402.4 1418.3,401.1 1418.3,391.6 1418.3,397 1423.9,396.6 1423.9,383.6 1423.9,387 1429.5,387.5 1429.5,403.3 1435.2,404.4 1435.2,433.4 1440.8,435.2 1440.8,475.4 1446.4,477.6 1446.4,522.1 1452,524.7 1452,575 1457.6,576.8 1457.6,605.2 1463.3,607.4 1463.3,630 1463.3,618.7 1468.9,617.6 1468.9,596.5 1474.5,594.9 1474.5,551.2 1480.1,548.9 1480.1,507 1485.8,504.8 1485.8,463.3 1491.4,461.5 1491.4,430.4 1497,428.8 1497,397.8 1502.6,396.5 1502.6,375.1 1508.2,374.3 1508.2,369.3 1508.2,372.2 1513.9,372.7 1513.9,398.5 1519.5,400.5 1519.5,453.7 1525.1,453.7 1525.1,446.2 1530.7,445.6 1530.7,429.4 1536.4,428.5 1536.4,421.5 1536.4,429.4 1542,430.8 1542,492.1 1547.6,494.6 1547.6,534.2 1553.2,534.2 1553.2,520.8 1558.8,519.6 1558.8,476.3 1564.5,474.9 1564.5,454.9 1570.1,454.2 1570.1,443.6 1575.7,443.8 1575.7,449.5 1575.7,443.6 1581.3,443.6 1581.3,447.8 1587,448.1 1587,453.7 1592.6,453.9 1592.6,457.9 1598.2,458.1 1598.2,463.7 1603.8,463.9 1603.8,466.2 1609.4,466.4 1609.4,470.4 1615.1,470.5 1615.1,471.9 1620.7,471.9 1620.7,470.4 1626.3,470.2 1626.3,462.5 1631.9,462.1 1631.9,458.7 1631.9,466.2 1637.6,466.5 1637.6,470.4 1643.2,470.4 1643.2,469.1 1648.8,469 1648.8,464.3 1654.4,464 1654.4,456.8 1660,456.5 1660,451.5 1665.7,451.3 1665.7,447.3 1671.3,447.2 1671.3,446.5 1671.3,448.6 1676.9,448.8 1676.9,451.5 1682.5,451.5 1682.5,451.1 1688.1,451 1688.1,439.4 1693.8,438.8 1693.8,425.2 1699.4,424.5 1699.4,412.2 1705,411.8 1705,406.8 1710.6,406.8 1710.6,407.2 1716.3,407.2 1716.3,410.1 1721.9,410.4 1721.9,421 1727.5,421.7 1727.5,438.1 1733.1,438.4 1733.1,442.3 1738.7,442.4 1738.7,444.4 1744.4,444.6 1744.4,451.9 1750,452.4 1750,462.4 1755.6,462.4 1755.6,460.3 1761.2,460.1 1761.2,455.7 1766.9,455.5 1766.9,450.2 1772.5,449.9 1772.5,443.5 1778.1,443.1 1778.1,436.4 1778.7,434 1779.2,431 1779.8,428.6 1780.3,426.9 1780.9,425.5 1781.5,424.3 1782,423.1 1782.6,422 1783.2,421.1 1783.7,420.1 1784.3,419.2 1784.8,418.3 1785.4,417.4 1786,416.6 1786.5,415.8 1787.1,415 1787.7,414.2 1788.2,413.5 1788.8,412.8 1789.3,412.1 1789.9,411.4 1790.5,410.8 1791,410.1 1791.6,409.5 1792.2,408.9 1792.7,408.3 1793.3,407.7 1793.8,407.1 1794.4,406.5 1795,406 1795.5,405.4 1796.1,404.9 1796.7,404.4 1797.2,403.8 1797.8,403.3 1798.3,402.8 1798.9,402.4 1799.5,401.9 1800,401.5 1800.6,401.1 1801.2,400.7 1801.7,400.3 1802.3,399.9 1802.8,399.5 1803.4,399 1804,398.6 1804.5,398.2 1805.1,397.8 1805.6,397.3 1806.2,396.8 1806.8,396.3 1807.3,395.8 1807.9,395.2 1808.5,394.6 1809,394 1809.6,393.4 1810.1,392.8 1810.7,392.1 1811.3,391.5 1811.8,390.8 1812.4,390.1 1813,389.4 1813.5,388.7 1814.1,388 1814.6,387.3 1815.2,386.5 1815.8,385.8 1816.3,384.9 1816.9,384 1817.5,383.1 1818,382.2 1818.6,381.3 1819.1,380.3 1819.7,379.4 1820.3,378.6 1820.8,377.7 1821.4,377 1822,376.2 1822.5,375.6 1823.1,375.1 1823.6,374.6 1824.2,374.2 1824.8,373.8 1825.3,373.4 1825.9,373.1 1826.4,372.8 1827,372.5 1827.6,372.2 1828.1,371.9 1828.7,371.6 1829.3,371.3 1829.8,371 1830.4,370.7 1830.9,370.4 1831.5,370 1832.1,369.6 1832.6,369.2 1833.2,368.7 1833.8,368.2 1834.3,367.6 1834.9,367.1 1835.4,366.5 1836,366 1836.6,365.5 1837.1,365 1837.7,364.5 1838.3,364.2 1838.8,363.8 1839.4,363.6 1839.9,363.4 1840.5,363.3 1841.6,363.3 1842.2,363.4 1842.8,363.5 1843.3,363.6 1843.9,363.7 1844.4,363.8 1845,364 1845.6,364.2 1846.1,364.4 1846.7,364.6 1847.3,364.8 1847.8,365 1848.4,365.2 1848.9,365.4 1849.5,365.7 1850.1,365.9 1850.6,366.2 1851.2,366.6 1851.7,367 1852.3,367.6 1852.9,368.1 1853.4,368.7 1854,369.3 1854.6,370 1855.1,370.6 1855.7,371.2 1856.2,371.8 1856.8,372.3 1857.4,372.8 1857.9,373.3 1858.5,373.7 1859.1,374 1859.6,374.1 1860.2,374.3 1860.7,374.3 1861.3,374.4 1861.9,374.4 1862.4,374.5 1863.6,374.5 1864.1,374.6 1865.2,374.6 1865.8,374.7 1866.4,374.7 1866.9,374.8 1867.5,374.9 1868.1,375 1868.6,375.4 1869.2,376.5 1869.7,378.2 1870.3,380.3 1870.9,382.4 1871.4,384.5 1872,386.5 1872.5,388.7 1873.1,391.1 1873.7,393.5 1874.2,395.8 1874.8,398.1 1875.4,400.4 1875.9,403 1876.5,405.6 1877,407.8 1877.6,409.4 1878.2,410 1883.2,410 1883.8,409.7 1884.4,409 1884.9,408.1 1885.5,407.1 1886,406.2 1886.6,405.4 1887.2,405 1887.7,405 1888.3,405.1 1888.9,405.3 1889.4,405.5 1890,405.8 1890.5,406.2 1891.1,406.6 1891.7,407 1892.2,407.5 1892.8,408 1893.4,408.5 1893.9,409.3 1894.5,410.3 1895,411.5 1895.6,412.8 1896.2,414.1 1896.7,415.5 1897.3,416.7 1897.8,417.8 1898.4,418.7 1899,419.6 1899.5,420.5 1900.1,421.3 1900.7,422.2 1901.2,422.9 1901.8,423.5 1902.3,423.9 1902.9,424.2 1903.5,424.2 1904,424.1 1904.6,424 1905.2,423.9 1905.7,423.7 1906.3,423.5 1906.8,423.3 1907.4,423 1908,422.8 1908.5,422.5 1909.1,422.1 1909.7,421.8 1910.2,421.4 1910.8,420.9 1911.3,420.3 1911.9,419.5 1912.5,418.6 1913,417.7 1913.6,416.7 1914.2,415.7 1914.7,414.7 1915.3,413.7 1915.8,412.8 1916.4,411.9 1917,411.1 1917.5,410.4 1918.1,409.6 1918.6,408.9 1919.2,408.2 1919.8,407.5 1920.3,406.7 1920.9,406 1921.5,405.4 1922,404.7 1922.6,404 1923.1,403.3 1923.7,402.6 1924.3,401.9 1924.8,401.2 1925.4,400.5 1926,399.8 1926.5,399.1 1927.1,398.4 1927.6,397.7 1928.2,397.2 1928.8,396.6 1929.3,396.2 1929.9,395.8 1930.5,395.4 1931,395.1 1931.6,394.7 1932.1,394.4 1932.7,394.1 1933.3,393.9 1933.8,393.6 1934.4,393.5 1935,393.4 1935.5,393.3 1936.1,393.3 1936.6,393.4 1937.2,393.5 1937.8,393.7 1938.3,394 1938.9,394.3 1939.5,394.6 1940,394.9 1940.6,395.2 1941.1,395.5 1941.7,395.9 1942.3,396.3 1942.8,396.7 1943.4,397.2 1943.9,397.7 1944.5,398.3 1945.1,398.9 1945.6,399.5 1946.2,400.2 1946.8,400.7"/>
<use href="#b" y="-0.6"/>
</g>
</svg>
<g shape-rendering="crispEdges">
<path fill="#757575" d="M1669,125 L1671,123 H1816 L1817,124 V126 L1816,127 H1671 Z"/>
<path fill="#ff3b3b" d="M1669,204.5 L1671,202 H1816 L1817,203 V206 L1816,207 H1671 Z"/>
<path fill="#0069e1" d="M1669,284 L1671,282 H1816 L1817,283 V285 L1816,286 H1671 Z"/>
</g>
<text class="tk" x="1851.6" y="151" font-size="67" textLength="72.5" lengthAdjust="spacingAndGlyphs">TG</text>
<text class="tk" x="1853.3" y="230" font-size="67" textLength="71.2" lengthAdjust="spacingAndGlyphs">Z0</text>
<text class="tk" x="1853.3" y="310" font-size="67" textLength="70.4" lengthAdjust="spacingAndGlyphs">Z3</text>
<text class="tk" x="374" y="1551" font-size="53" text-anchor="middle" textLength="119.5" lengthAdjust="spacingAndGlyphs">3500</text>
<text class="tk" x="655" y="1551" font-size="53" text-anchor="middle" textLength="119.5" lengthAdjust="spacingAndGlyphs">3000</text>
<text class="tk" x="936" y="1551" font-size="53" text-anchor="middle" textLength="119.5" lengthAdjust="spacingAndGlyphs">2500</text>
<text class="tk" x="1217" y="1551" font-size="53" text-anchor="middle" textLength="119.5" lengthAdjust="spacingAndGlyphs">2000</text>
<text class="tk" x="1498" y="1551" font-size="53" text-anchor="middle" textLength="119.5" lengthAdjust="spacingAndGlyphs">1500</text>
<text class="tk" x="1779" y="1551" font-size="53" text-anchor="middle" textLength="119.5" lengthAdjust="spacingAndGlyphs">1000</text>
<text class="ax" x="794.5" y="1668" font-size="71.5">Wavenumber (cm<tspan font-size="65.5" dy="-29.2">-1</tspan><tspan dy="29.2" dx="-0.5">)</tspan></text>
<text class="ax" transform="translate(123,733.5) rotate(-90)" font-size="72" text-anchor="middle">Transmittance (a.u.)</text>
</svg></body></html>
